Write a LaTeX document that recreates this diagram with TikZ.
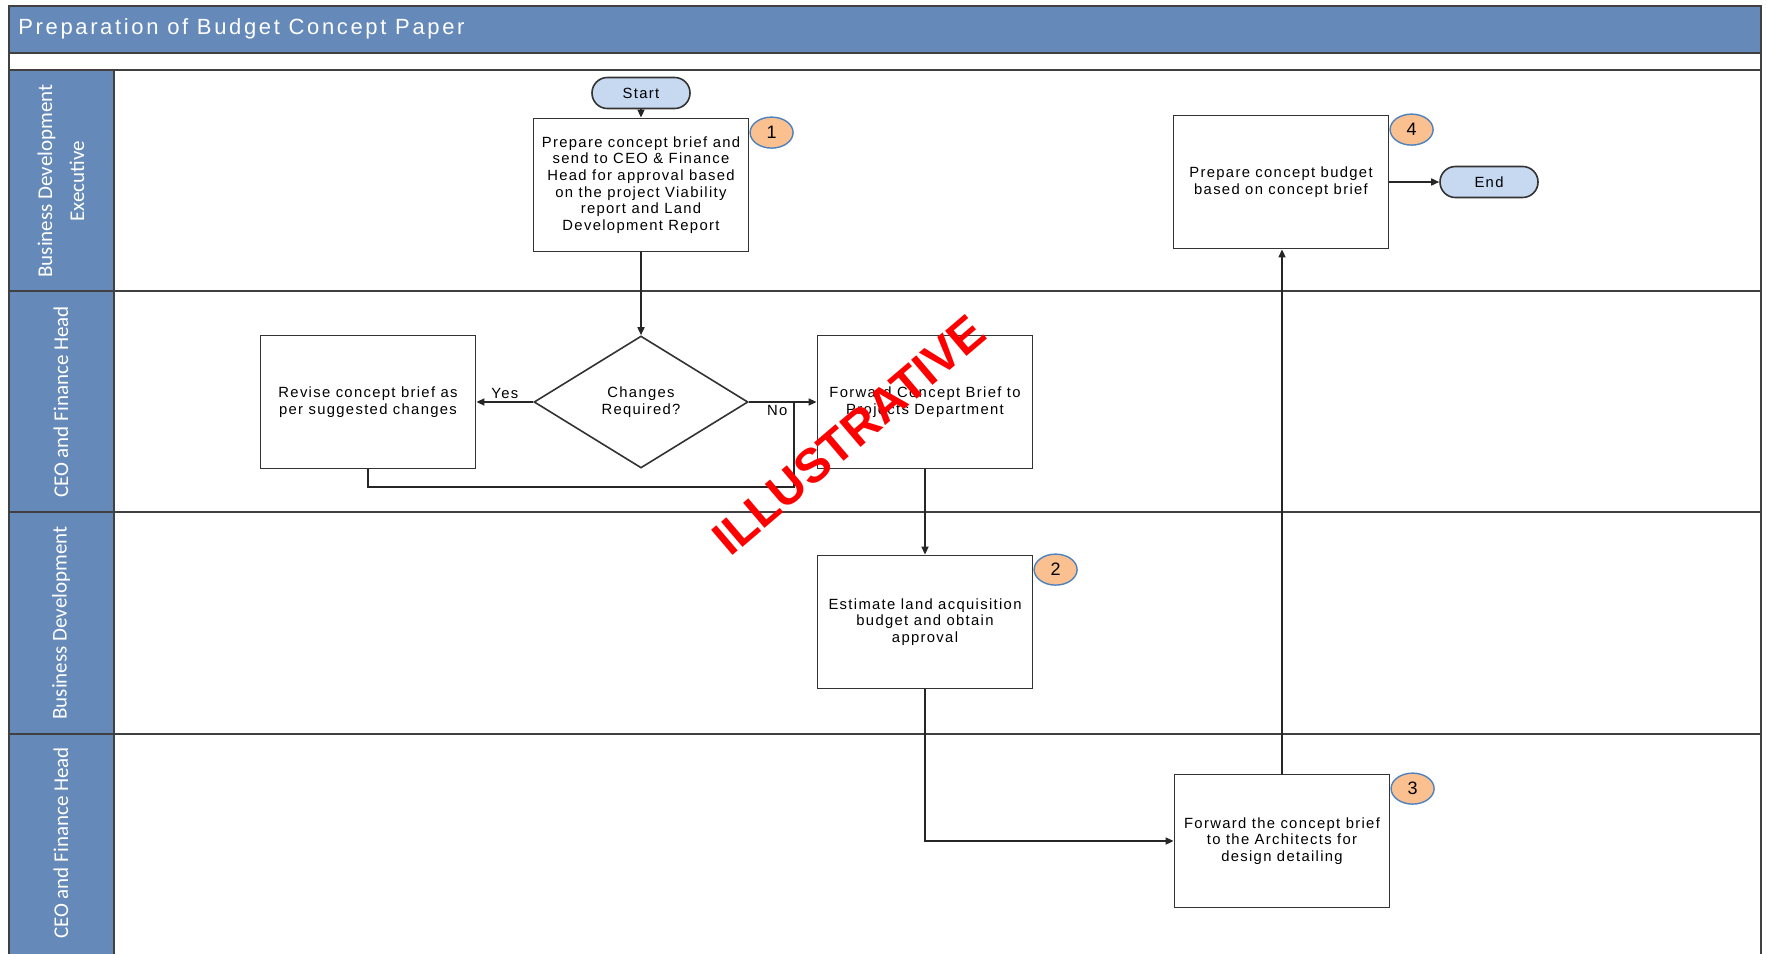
\documentclass[tikz,border=0pt]{standalone}
\usepackage{fontspec}
\setmainfont{Liberation Sans}
\newfontfamily\lanefont{Carlito}
\newfontfamily\boxfont[LetterSpace=9]{Liberation Sans}
\newfontfamily\titlefont[LetterSpace=12]{Liberation Sans}
\usetikzlibrary{arrows.meta,shapes.geometric}
\definecolor{laneblue}{RGB}{101,137,185}
\definecolor{ovalblue}{RGB}{198,217,241}
\definecolor{badgefill}{RGB}{250,192,144}
\definecolor{badgeline}{RGB}{79,129,189}
\tikzset{
  frame/.style={draw=black!75,line width=1pt},
  stepbox/.style={draw=black!80,line width=0.9pt,fill=white,minimum width=107.5pt,
    minimum height=66.5pt,align=center,inner sep=1pt,
    font=\boxfont\fontsize{7.4}{8.3}\selectfont},
  choice/.style={diamond,draw=black!80,line width=0.8pt,fill=white,minimum width=107pt,
    minimum height=66pt,inner sep=0pt,align=center,
    font=\boxfont\fontsize{7.4}{8.3}\selectfont},
  terminal/.style={draw=black!80,line width=0.8pt,fill=ovalblue,rounded corners=7.7pt,
    minimum width=49pt,minimum height=15.5pt,inner sep=0pt,
    font=\boxfont\fontsize{7.4}{8.3}\selectfont},
  badge/.style={ellipse,draw=badgeline,line width=0.7pt,fill=badgefill,minimum width=21.5pt,
    minimum height=15.5pt,inner sep=0pt,anchor=west,yshift=-7.5pt,
    font=\fontsize{9}{10}\selectfont},
  lane/.style={rotate=90,text=white,align=center,font=\lanefont\fontsize{10.5}{16}\selectfont},
  flow/.style={-{Triangle[length=4pt,width=3.5pt]},draw=black!85,line width=0.8pt},
  tag/.style={font=\boxfont\fontsize{7.4}{8.3}\selectfont,inner sep=1.5pt}
}
\begin{document}
\begin{tikzpicture}[x=0.5pt,y=-0.5pt]
  \useasboundingbox (0,0) rectangle (1766,953);
  % title bar and swimlanes
  \draw[frame,fill=laneblue] (9,6) rectangle (1761,53);
  \node[anchor=west,inner sep=0pt,text=white,font=\titlefont\fontsize{11}{13}\selectfont]
    (title) at (18,29) {Preparation of Budget Concept Paper};
  \fill[laneblue] (9,70) rectangle (114,960);
  \draw[frame] (9,6) rectangle (1761,960);
  \draw[frame]
    (9,70) -- (1761,70)
    (9,291) -- (1761,291)
    (9,512) -- (1761,512)
    (9,734) -- (1761,734)
    (114,70) -- (114,960);
  \draw
    (61,181) node[lane] (l1) {Business Development\\Executive}
    (61,402) node[lane] (l2) {CEO and Finance Head}
    (61,623) node[lane] (l3) {Business Development}
    (61,843) node[lane] (l4) {CEO and Finance Head};
  % steps
  \draw
    (641,93) node[terminal] (start) {Start}
    (641,185) node[stepbox] (1) {Prepare concept brief and\\send to CEO \& Finance\\Head for approval based\\on the project Viability\\report and Land\\Development Report}
    (641,402) node[choice] (q) {Changes\\Required?}
    (368,402) node[stepbox] (rev) {Revise concept brief as\\per suggested changes}
    (925,402) node[stepbox] (fwd) {Forward Concept Brief to\\Projects Department}
    (925,622) node[stepbox] (2) {Estimate land acquisition\\budget and obtain\\approval}
    (1282,841) node[stepbox] (3) {Forward the concept brief\\to the Architects for\\design detailing}
    (1281,182) node[stepbox] (4) {Prepare concept budget\\based on concept brief}
    (1489,182) node[terminal] (end) {End};
  \draw
    (1.north east) node[badge] (b1) {1}
    (2.north east) node[badge] (b2) {2}
    (3.north east) node[badge] (b3) {3}
    (4.north east) node[badge] (b4) {4};
  \coordinate (j) at (794,402);
  \begin{scope}[flow]
    \draw (start) to (1);
    \draw (1) to (q);
    \draw (q.west) to node[tag,above] {Yes} (rev.east);
    \draw (q.east) to node[tag,below,pos=0.42] {No} (fwd.west);
    \draw[-] (rev.south) -- (rev.south |- 0,487) -| (j);
    \draw (fwd) to (2);
    \draw (2.south) |- (3.west);
    \draw (3.north) to (3.north |- 4.south);
    \draw (4) to (end);
  \end{scope}
  % watermark
  \node[rotate=40.4,text=red,font=\bfseries\fontsize{24}{24}\selectfont] (mark) at (849,435) {ILLUSTRATIVE};
\end{tikzpicture}
\end{document}
